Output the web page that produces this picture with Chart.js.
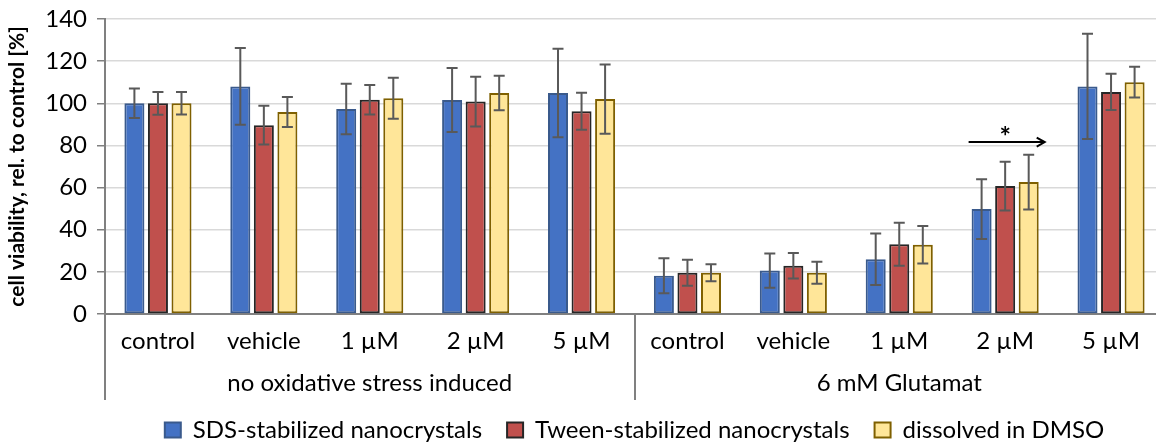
<!DOCTYPE html>
<html>
<head>
<meta charset="utf-8">
<script src="https://cdn.jsdelivr.net/npm/chart.js"></script>
<style>
  html, body { margin: 0; padding: 0; overflow: hidden; background: #fff; }
  #wrap { width: 1164px; height: 443px; }
</style>
</head>
<body>
<div id="wrap"><canvas id="chart"></canvas></div>
<script>
// data
const categories = ['control', 'vehicle', '1 µM', '2 µM', '5 µM', 'control', 'vehicle', '1 µM', '2 µM', '5 µM'];
const groupLabels = ['no oxidative stress induced', '6 mM Glutamat'];
const seriesNames = ['SDS-stabilized nanocrystals', 'Tween-stabilized nanocrystals', 'dissolved in DMSO'];

const sdsValues   = [100, 108, 97.3, 101.6, 104.9, 18.2, 20.6, 26, 49.8, 108];
const sdsErrors   = [7, 18.2, 12, 15.2, 21, 8.3, 8.1, 12.2, 14.2, 25];
const tweenValues = [100, 89.6, 101.7, 100.8, 96.2, 19.6, 22.9, 33.1, 60.7, 105.4];
const tweenErrors = [5.4, 9.2, 7, 11.8, 8.8, 6.2, 6, 10.2, 11.6, 8.6];
const dmsoValues  = [100, 95.9, 102.4, 104.9, 102, 19.6, 19.6, 32.9, 62.6, 110];
const dmsoErrors  = [5.3, 7.1, 9.7, 8.2, 16.4, 4, 5.2, 8.9, 13, 7.3];

const yTicks = [0, 20, 40, 60, 80, 100, 120, 140];

// significance arrow over the 2 µM glutamate group
const sigCategory = 8;
const sigLevel = 81.6;
const sigLabel = '*';

const FONT = 'Lato, "Open Sans", sans-serif';

// error bars drawn from the y scale
const errorBars = {
  id: 'errorBars',
  afterDatasetsDraw(chart) {
    const ctx = chart.ctx;
    const y = chart.scales.y;
    chart.data.datasets.forEach((ds, di) => {
      const meta = chart.getDatasetMeta(di);
      meta.data.forEach((bar, i) => {
        const v = ds.data[i], e = ds.errors[i];
        const top = y.getPixelForValue(v + e);
        const bot = y.getPixelForValue(v - e);
        ctx.save();
        ctx.strokeStyle = '#595959';
        ctx.lineWidth = 2;
        ctx.beginPath();
        ctx.moveTo(bar.x, top); ctx.lineTo(bar.x, bot);
        ctx.moveTo(bar.x - 5.5, top); ctx.lineTo(bar.x + 5.5, top);
        ctx.moveTo(bar.x - 5.5, bot); ctx.lineTo(bar.x + 5.5, bot);
        ctx.stroke();
        ctx.restore();
      });
    });
  }
};

// arrow + asterisk
const sigArrow = {
  id: 'sigArrow',
  afterDatasetsDraw(chart) {
    const ctx = chart.ctx;
    const first = chart.getDatasetMeta(0).data[sigCategory];
    const last = chart.getDatasetMeta(chart.data.datasets.length - 1).data[sigCategory];
    const x1 = first.x - first.width / 2 - 3;
    const x2 = last.x + last.width / 2 + 6;
    const yy = chart.scales.y.getPixelForValue(sigLevel);
    ctx.save();
    ctx.strokeStyle = '#000';
    ctx.lineWidth = 2;
    ctx.beginPath();
    ctx.moveTo(x1, yy); ctx.lineTo(x2, yy);
    ctx.moveTo(x2 - 8, yy - 4.5); ctx.lineTo(x2, yy); ctx.lineTo(x2 - 8, yy + 4.5);
    ctx.stroke();
    ctx.fillStyle = '#000';
    ctx.font = 'bold 27px ' + FONT;
    ctx.textAlign = 'center';
    ctx.textBaseline = 'alphabetic';
    ctx.fillText(sigLabel, chart.scales.x.getPixelForValue(sigCategory), yy + 4);
    ctx.restore();
  }
};

const ctx = document.getElementById('chart').getContext('2d');
new Chart(ctx, {
  type: 'bar',
  data: {
    labels: categories,
    datasets: [
      { label: seriesNames[0], data: sdsValues, errors: sdsErrors,
        backgroundColor: '#4472C4', borderColor: '#3A5A8C', borderWidth: 2, borderSkipped: false },
      { label: seriesNames[1], data: tweenValues, errors: tweenErrors,
        backgroundColor: '#C0504D', borderColor: '#262626', borderWidth: 2, borderSkipped: false },
      { label: seriesNames[2], data: dmsoValues, errors: dmsoErrors,
        backgroundColor: '#FFE699', borderColor: '#7F6000', borderWidth: 2, borderSkipped: false }
    ]
  },
  options: {
    responsive: true,
    maintainAspectRatio: false,
    animation: false,
    devicePixelRatio: 1,
    categoryPercentage: 0.667,
    barPercentage: 0.85,
    layout: { padding: { top: 19, left: 0, right: 0, bottom: -9 } },
    plugins: {
      tooltip: { enabled: false },
      legend: {
        position: 'bottom',
        fullSize: false,
        labels: {
          font: { family: FONT, size: 24 },
          color: '#000',
          boxWidth: 16,
          boxHeight: 15,
          padding: 25
        }
      }
    },
    scales: {
      x: {
        grid: {
          display: true,
          offset: true,
          drawOnChartArea: false,
          tickLength: 86,
          lineWidth: 2,
          color: c => (c.index % 5 === 0 ? '#808080' : 'rgba(0,0,0,0)'),
          tickColor: c => (c.index % 5 === 0 ? '#808080' : 'rgba(0,0,0,0)')
        },
        border: { display: true, color: '#808080', width: 2 },
        ticks: {
          font: { family: FONT, size: 24 },
          color: '#000',
          padding: -73,
          autoSkip: false,
          maxRotation: 0
        },
        afterFit: s => { s.height = 44; }
      },
      x2: {
        type: 'category',
        position: 'bottom',
        labels: groupLabels,
        grid: { display: false, drawTicks: false },
        border: { display: false },
        ticks: {
          font: { family: FONT, size: 24 },
          color: '#000',
          padding: 10.6,
          autoSkip: false,
          maxRotation: 0
        },
        afterFit: s => { s.height = 35; }
      },
      y: {
        min: 0,
        max: 140,
        afterBuildTicks: s => { s.ticks = yTicks.map(v => ({ value: v })); },
        grid: { color: '#D9D9D9', lineWidth: 1.5, tickLength: 8, tickColor: '#808080' },
        border: { display: true, color: '#808080', width: 2 },
        ticks: { font: { family: FONT, size: 24 }, color: '#000', padding: 10 },
        title: {
          display: true,
          text: 'cell viability, rel. to control [%]',
          font: { family: FONT, size: 21, weight: 'bold' },
          color: '#000',
          padding: { top: 5, bottom: 0 }
        },
        afterFit: s => { s.width = 105; s.paddingTop = 0; s.paddingBottom = 0; }
      }
    }
  },
  plugins: [errorBars, sigArrow]
});
</script>
</body>
</html>
